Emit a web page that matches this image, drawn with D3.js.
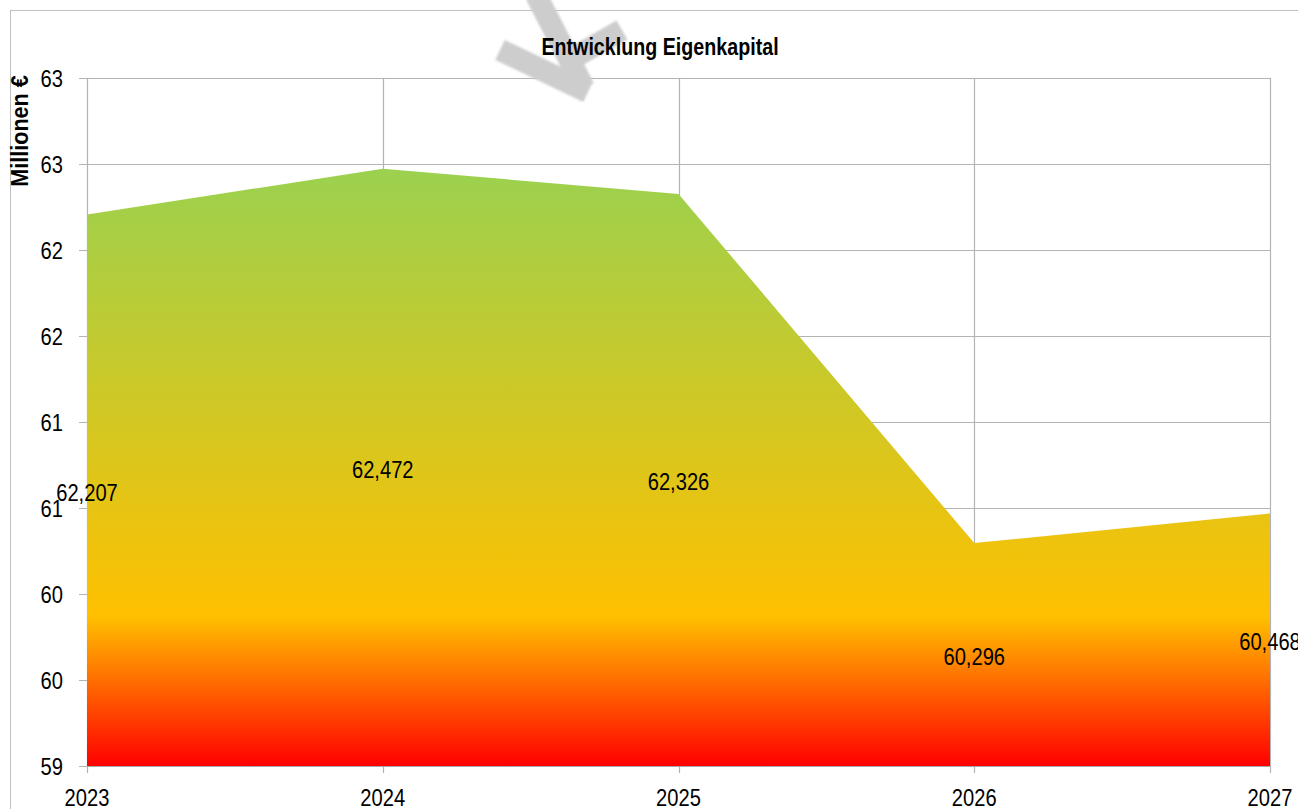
<!doctype html>
<html>
<head>
<meta charset="utf-8">
<title>Entwicklung Eigenkapital</title>
<script src="https://cdn.jsdelivr.net/npm/d3@7"></script>
<style>
  body { margin: 0; background: #fff; }
  svg text { font-family: "Liberation Sans", Arial, sans-serif; fill: #000; }
</style>
</head>
<body>
<svg id="chart" width="1298" height="809"></svg>
<script>
// chart data
var years = ["2023", "2024", "2025", "2026", "2027"];
var equity = [62.207, 62.472, 62.326, 60.296, 60.468];
var yTicks = [59, 59.5, 60, 60.5, 61, 61.5, 62, 62.5, 63];
var title = "Entwicklung Eigenkapital";
var yTitle = "Millionen €";

var svg = d3.select("#chart");
var m = { left: 87, right: 1270, top: 78, bottom: 766 };
var narrow = 0.84; // the original uses a condensed face, squeeze a normal one

var x = d3.scalePoint().domain(years).range([m.left, m.right]);
var y = d3.scaleLinear().domain([59, 63]).range([m.bottom, m.top]);

// outer chart border
svg.append("rect")
  .attr("x", 10.5).attr("y", 10.5)
  .attr("width", 1400).attr("height", 900)
  .attr("fill", "none").attr("stroke", "#c0c0c0");

// gradient for the area: green at the top, yellow, red at the base
var defs = svg.append("defs");
var grad = defs.append("linearGradient")
  .attr("id", "fillGrad")
  .attr("gradientUnits", "userSpaceOnUse")
  .attr("x1", 0).attr("x2", 0)
  .attr("y1", y(d3.max(equity))).attr("y2", y(59));
grad.append("stop").attr("offset", "0").attr("stop-color", "#9BD14F");
grad.append("stop").attr("offset", "0.75").attr("stop-color", "#FFC000");
grad.append("stop").attr("offset", "1").attr("stop-color", "#FF0000");

var blur = defs.append("filter").attr("id", "soft");
blur.append("feGaussianBlur").attr("stdDeviation", 1.2);

// grid
svg.append("g").selectAll("line").data(yTicks).join("line")
  .attr("x1", m.left - 8).attr("x2", m.right)
  .attr("y1", d => Math.round(y(d)) + 0.5).attr("y2", d => Math.round(y(d)) + 0.5)
  .attr("stroke", "#b3b3b3").attr("stroke-width", 1.2);
svg.append("g").selectAll("line").data(years).join("line")
  .attr("x1", d => Math.round(x(d)) + 0.5).attr("x2", d => Math.round(x(d)) + 0.5)
  .attr("y1", m.top).attr("y2", m.bottom + 7)
  .attr("stroke", "#b3b3b3").attr("stroke-width", 1.2);

// area
var area = d3.area()
  .x((d, i) => x(years[i]))
  .y0(y(59))
  .y1(d => y(d));
svg.append("path")
  .datum(equity)
  .attr("d", area)
  .attr("fill", "url(#fillGrad)");

// base line over the area
svg.append("line")
  .attr("x1", m.left).attr("x2", m.right)
  .attr("y1", m.bottom + 0.5).attr("y2", m.bottom + 0.5)
  .attr("stroke", "#a6a6a6").attr("stroke-width", 1.2);

// watermark fragment
var wm = svg.append("g").attr("stroke", "#cdcdcd").attr("stroke-width", 22)
  .attr("stroke-linecap", "butt").attr("filter", "url(#soft)");
wm.append("line").attr("x1", 536).attr("y1", -5).attr("x2", 584).attr("y2", 88);
wm.append("line").attr("x1", 500).attr("y1", 50).attr("x2", 588).attr("y2", 92);
wm.append("line").attr("x1", 566).attr("y1", 62).attr("x2", 622).attr("y2", 30);

function squeeze(px, py, s) {
  return "translate(" + px + "," + py + ") scale(" + (s || narrow) + ",1)";
}

// y tick labels (rounded like the original)
svg.append("g").selectAll("text").data(yTicks).join("text")
  .attr("transform", d => squeeze(63, y(d) + 9))
  .attr("text-anchor", "end")
  .attr("font-size", 24)
  .text(d => Math.round(d));

// x tick labels
svg.append("g").selectAll("text").data(years).join("text")
  .attr("transform", d => squeeze(x(d), 806))
  .attr("text-anchor", "middle")
  .attr("font-size", 24)
  .text(d => d);

// data labels in the middle of the area
svg.append("g").selectAll("text").data(equity).join("text")
  .attr("transform", (d, i) => squeeze(x(years[i]), (y(d) + y(59)) / 2 + 10.5))
  .attr("text-anchor", "middle")
  .attr("font-size", 24)
  .text(d => d3.format(".3f")(d).replace(".", ","));

// title
svg.append("text")
  .attr("transform", squeeze(660, 55, 0.82))
  .attr("text-anchor", "middle")
  .attr("font-size", 24).attr("font-weight", "bold")
  .text(title);

// y axis title
svg.append("text")
  .attr("transform", "translate(28,131) rotate(-90) scale(0.9,1)")
  .attr("text-anchor", "middle")
  .attr("font-size", 24).attr("font-weight", "bold")
  .text(yTitle);
</script>
</body>
</html>
